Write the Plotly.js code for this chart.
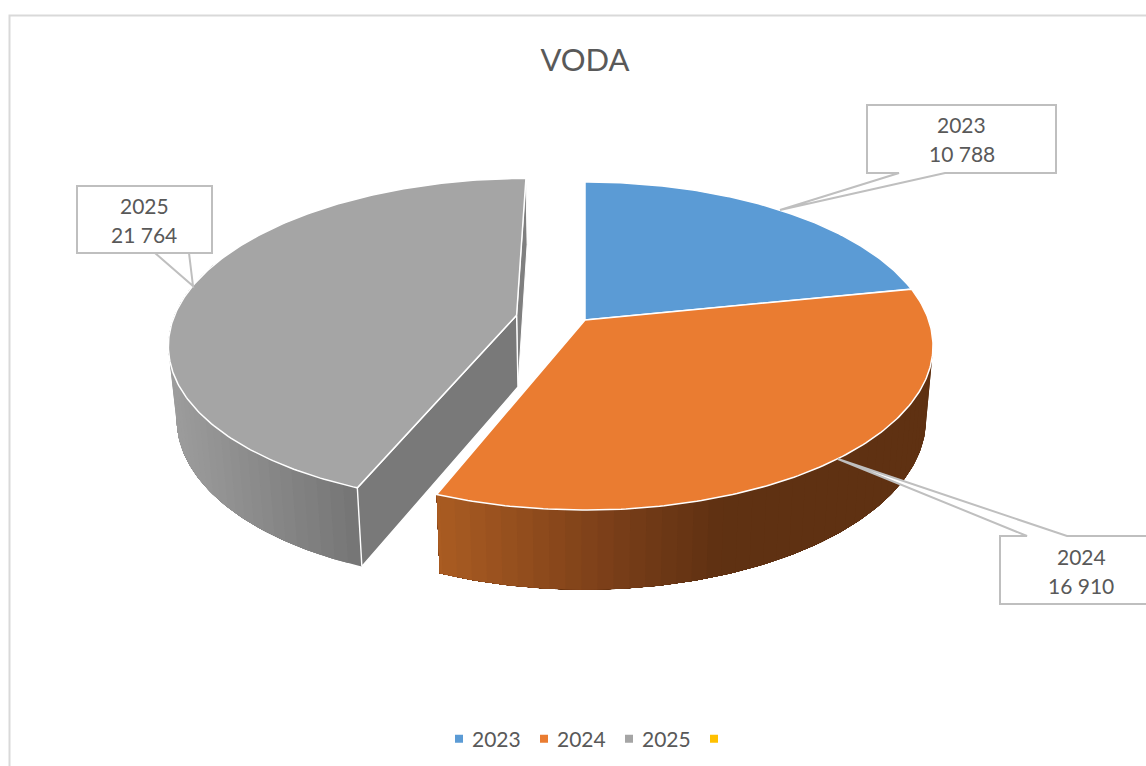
<!DOCTYPE html>
<html><head><meta charset="utf-8">
<script src="https://cdn.plot.ly/plotly-3.0.1.min.js"></script>
<style>html,body{margin:0;padding:0;background:#fff}</style></head>
<body><div id="chart" style="width:1146px;height:766px"></div>
<script>
const categories = ['2023', '2024', '2025', ' '];
const seriesValues = [10788, 16910, 21764];
const labelTexts = ['10 788', '16 910', '21 764'];
const topColors = ['#5b9bd5', '#ea7c31', '#a5a5a5', '#ffc000'];
const chartTitle = 'VODA';

// projection of the pie's plane into the axes
const view = {cx: 585, cyTop: 320, cyBottom: 392, A: 343.6, B: 159.9, k: 0.1586, sx: 0.98, sy: 1.04};
const explode = {u: -0.2, v: 0.03};

function project(u, v, bottom) {
  const d = 1 + view.k * v;
  const x = view.A * u / d * (bottom ? view.sx : 1);
  const y = view.B * v / d * (bottom ? view.sy : 1);
  return [view.cx + x, (bottom ? view.cyBottom : view.cyTop) - y];
}
const total = seriesValues.reduce((a, b) => a + b, 0);
let acc = 0;
const slices = seriesValues.map(v => {
  const s = acc / total * 2 * Math.PI; acc += v;
  return {start: s, end: acc / total * 2 * Math.PI};
});
function rimPoint(t, off, bottom) {
  return project(Math.sin(t) + off.u, Math.cos(t) + off.v, bottom);
}
function rimPath(s, e, off, bottom) {
  const n = Math.max(2, Math.ceil((e - s) / 0.012));
  const pts = [];
  for (let i = 0; i <= n; i++) pts.push(rimPoint(s + (e - s) * i / n, off, bottom));
  return pts;
}
function mix(stops, x) {
  if (x <= stops[0][0]) return stops[0][1];
  for (let i = 1; i < stops.length; i++) {
    if (x <= stops[i][0]) {
      const f = (x - stops[i-1][0]) / (stops[i][0] - stops[i-1][0]);
      return stops[i-1][1].map((a, j) => Math.round(a + (stops[i][1][j] - a) * f));
    }
  }
  return stops[stops.length - 1][1];
}
const wallShades = {
  1: [[437, [170, 92, 34]], [600, [125, 64, 25]], [720, [95, 49, 18]]],
  2: [[172, [156, 156, 156]], [360, [116, 116, 116]]]
};
const noOff = {u: 0, v: 0};
const traces = [];
function poly(pts, fill, line, lw, name) {
  traces.push({type: 'scatter', mode: 'lines', x: pts.map(p => p[0]), y: pts.map(p => p[1]),
    fill: 'toself', fillcolor: fill, line: {color: line, width: lw}, showlegend: false,
    hoverinfo: 'skip', name: name || ''});
}
// outer wall, shaded by screen position: each band reaches to the wall's far end, so later bands paint over
// the earlier ones and no seams show between them
function wallStrips(i, off, s, e) {
  const step = 0.04, count = Math.ceil((e - s) / step);
  for (let n = 0; n < count; n++) {
    const t = s + n * step;
    const mid = rimPoint(Math.min(e, t + step / 2), off, false);
    const css = 'rgb(' + mix(wallShades[i], mid[0]).join(',') + ')';
    const a = rimPath(t, e, off, false), b = rimPath(t, e, off, true).reverse();
    const pts = a.concat(b); pts.push(a[0]);
    poly(pts, css, css, 0);
  }
}
// back wall and cut walls of the pulled-out slice
const sl3 = slices[2];
const apexTop = project(explode.u, explode.v, false), apexBot = project(explode.u, explode.v, true);
poly([apexTop, rimPoint(sl3.end, explode, false), rimPoint(sl3.end, explode, true), apexBot, apexTop], '#7f7f7f', '#ffffff', 1);
wallStrips(2, explode, sl3.start, sl3.start + 1.55);
poly([apexTop, rimPoint(sl3.start, explode, false), rimPoint(sl3.start, explode, true), apexBot, apexTop], '#797979', '#ffffff', 1.4);
// front wall of 2024
wallStrips(1, noOff, slices[0].end + 0.3, slices[1].end);
// tops
slices.forEach((sl, i) => {
  const off = i === 2 ? explode : noOff;
  const apex = project(off.u, off.v, false);
  const pts = [apex].concat(rimPath(sl.start, sl.end, off, false), [apex]);
  poly(pts, topColors[i], '#ffffff', 1.5, categories[i]);
});
// legend entries
categories.forEach((c, i) => traces.push({type: 'scatter', mode: 'markers', x: [null], y: [null], name: c,
  marker: {symbol: 'square', size: 8, color: topColors[i]}, showlegend: true, hoverinfo: 'skip'}));

const grey = '#bfbfbf', ink = '#595959';
const callouts = [
  {box: [867, 105, 1056, 173], tail: [[945, 173], [780, 210], [899, 173]], tx: 961.5, ty: 124},
  {box: [1000, 536, 1150, 604], tail: [[1027, 536], [838, 459], [1067, 536]], tx: 1081, ty: 556, top: true},
  {box: [77, 186, 212, 253], tail: [[155, 253], [193, 286], [189, 253]], tx: 144, ty: 205}
];
const shapes = [
  {type: 'path', xref: 'x', yref: 'y', path: 'M9.5,770 L9.5,15.5 L1150,15.5', line: {color: '#d9d9d9', width: 2}, layer: 'below'}
];
const annotations = [];
callouts.forEach((c, i) => {
  const [x0, y0, x1, y1] = c.box;
  const t = c.tail;
  const p = c.top
    ? `M${x0},${y0} L${t[0][0]},${y0} L${t[1][0]},${t[1][1]} L${t[2][0]},${y0} L${x1},${y0} L${x1},${y1} L${x0},${y1} Z`
    : `M${x0},${y0} L${x1},${y0} L${x1},${y1} L${t[0][0]},${y1} L${t[1][0]},${t[1][1]} L${t[2][0]},${y1} L${x0},${y1} Z`;
  shapes.push({type: 'path', xref: 'x', yref: 'y', path: p, fillcolor: '#ffffff', line: {color: grey, width: 2}, layer: 'above'});
  [categories[i], labelTexts[i]].forEach((s, j) => annotations.push({xref: 'x', yref: 'y', x: c.tx, y: c.ty + j * 29,
    text: s, showarrow: false, xanchor: 'center', yanchor: 'middle', font: {family: 'Lato, sans-serif', size: 21, color: ink}}));
});

Plotly.newPlot('chart', traces, {
  width: 1146, height: 766, margin: {l: 0, r: 0, t: 0, b: 0}, paper_bgcolor: '#ffffff', plot_bgcolor: '#ffffff',
  title: {text: chartTitle, x: 585 / 1146, xanchor: 'center', y: 1 - 60 / 766, yanchor: 'middle', font: {family: 'Lato, sans-serif', size: 31, color: ink}},
  xaxis: {range: [0, 1146], visible: false, fixedrange: true},
  yaxis: {range: [766, 0], visible: false, fixedrange: true},
  legend: {orientation: 'h', x: 439 / 1146, xanchor: 'left', y: 1 - 739 / 766, yanchor: 'middle', entrywidth: 40, entrywidthmode: 'pixels',
    font: {family: 'Lato, sans-serif', size: 21, color: ink}, bgcolor: 'rgba(0,0,0,0)', itemwidth: 30},
  shapes, annotations, showlegend: true, hovermode: false
}, {displayModeBar: false, staticPlot: true}).then(() => {
  // tighten the gap between legend swatch and label, as in the reference
  document.querySelectorAll('.legendtext').forEach(t => t.setAttribute('x', 33));
});
</script></body></html>
